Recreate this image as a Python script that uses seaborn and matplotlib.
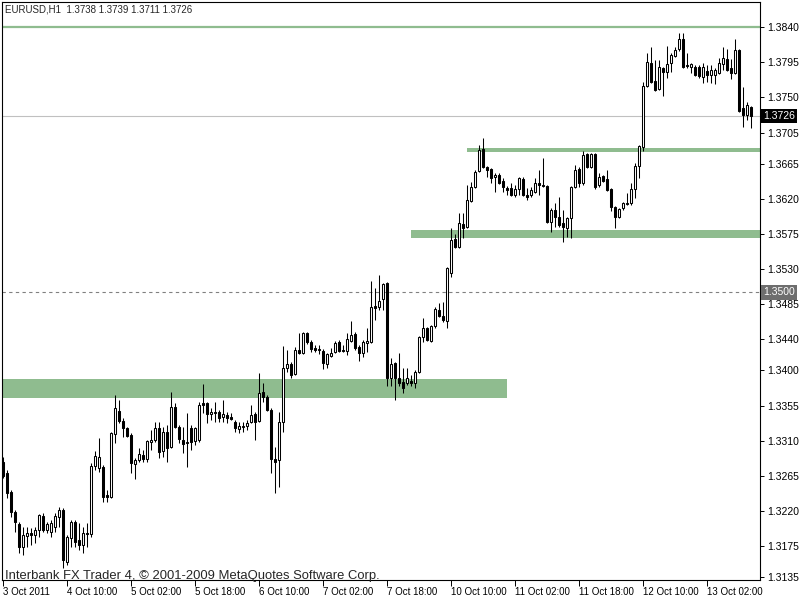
import numpy as np
import pandas as pd
import seaborn as sns
import matplotlib.pyplot as plt
from matplotlib import transforms

# EURUSD H1 bars, 3 Oct 2011 18:00 .. 13 Oct 2011 13:00
opens = [
    1.3283, 1.3269, 1.3244, 1.3219, 1.3203, 1.3174, 1.3188, 1.3192, 1.3189, 1.3196,
    1.3214, 1.3196, 1.3193, 1.3199, 1.3212, 1.3221, 1.3155, 1.3185, 1.3206, 1.3183,
    1.3176, 1.3192, 1.3190, 1.3278, 1.3275, 1.3276, 1.3240, 1.3238, 1.3319, 1.3348,
    1.3335, 1.3326, 1.3317, 1.3280, 1.3285, 1.3292, 1.3287, 1.3308, 1.3311, 1.3326,
    1.3297, 1.3321, 1.3302, 1.3353, 1.3328, 1.3311, 1.3307, 1.3326, 1.3310, 1.3311,
    1.3358, 1.3358, 1.3344, 1.3347, 1.3347, 1.3340, 1.3343, 1.3340, 1.3334, 1.3325,
    1.3328, 1.3329, 1.3334, 1.3344, 1.3335, 1.3372, 1.3366, 1.3349, 1.3287, 1.3285,
    1.3334, 1.3403, 1.3408, 1.3396, 1.3426, 1.3423, 1.3448, 1.3437, 1.3429, 1.3426,
    1.3425, 1.3408, 1.3419, 1.3424, 1.3437, 1.3426, 1.3425, 1.3438, 1.3447, 1.3430,
    1.3423, 1.3435, 1.3437, 1.3483, 1.3482, 1.3492, 1.3512, 1.3390, 1.3410, 1.3390,
    1.3385, 1.3384, 1.3387, 1.3384, 1.3398, 1.3443, 1.3455, 1.3438, 1.3457, 1.3478,
    1.3470, 1.3464, 1.3525, 1.3569, 1.3558, 1.3588, 1.3584, 1.3617, 1.3635, 1.3656,
    1.3684, 1.3661, 1.3658, 1.3648, 1.3651, 1.3643, 1.3634, 1.3634, 1.3625, 1.3633,
    1.3646, 1.3625, 1.3625, 1.3629, 1.3640, 1.3638, 1.3637, 1.3590, 1.3606, 1.3597,
    1.3589, 1.3583, 1.3596, 1.3635, 1.3658, 1.3640, 1.3678, 1.3661, 1.3678, 1.3638,
    1.3649, 1.3646, 1.3633, 1.3610, 1.3597, 1.3608, 1.3614, 1.3615, 1.3633, 1.3662,
    1.3687, 1.3765, 1.3794, 1.3771, 1.3761, 1.3788, 1.3783, 1.3794, 1.3803, 1.3812,
    1.3825, 1.3792, 1.3789, 1.3789, 1.3789, 1.3776, 1.3784, 1.3779, 1.3779, 1.3781,
    1.3793, 1.3799, 1.3788, 1.3781, 1.3811, 1.3737, 1.3728, 1.3738,
]
highs = [
    1.3289, 1.3272, 1.3247, 1.3221, 1.3206, 1.3199, 1.3199, 1.3198, 1.3199, 1.3216,
    1.3217, 1.3206, 1.3208, 1.3217, 1.3225, 1.3224, 1.3189, 1.3208, 1.3208, 1.3205,
    1.3199, 1.3205, 1.3281, 1.3297, 1.3313, 1.3279, 1.3247, 1.3321, 1.3369, 1.3362,
    1.3339, 1.3328, 1.3320, 1.3288, 1.3301, 1.3298, 1.3311, 1.3324, 1.3334, 1.3334,
    1.3328, 1.3330, 1.3372, 1.3358, 1.3330, 1.3328, 1.3346, 1.3330, 1.3328, 1.3360,
    1.3383, 1.3360, 1.3352, 1.3360, 1.3349, 1.3362, 1.3347, 1.3346, 1.3337, 1.3334,
    1.3334, 1.3337, 1.3356, 1.3347, 1.3397, 1.3384, 1.3369, 1.3352, 1.3302, 1.3347,
    1.3431, 1.3426, 1.3411, 1.3430, 1.3448, 1.3449, 1.3449, 1.3439, 1.3433, 1.3433,
    1.3428, 1.3423, 1.3429, 1.3438, 1.3439, 1.3433, 1.3448, 1.3464, 1.3449, 1.3433,
    1.3439, 1.3455, 1.3515, 1.3506, 1.3523, 1.3512, 1.3513, 1.3416, 1.3411, 1.3423,
    1.3403, 1.3403, 1.3394, 1.3401, 1.3444, 1.3467, 1.3456, 1.3458, 1.3482, 1.3487,
    1.3488, 1.3533, 1.3583, 1.3575, 1.3602, 1.3602, 1.3638, 1.3642, 1.3657, 1.3689,
    1.3698, 1.3662, 1.3660, 1.3653, 1.3653, 1.3647, 1.3637, 1.3640, 1.3638, 1.3648,
    1.3648, 1.3634, 1.3635, 1.3647, 1.3657, 1.3672, 1.3638, 1.3608, 1.3615, 1.3622,
    1.3606, 1.3597, 1.3637, 1.3664, 1.3661, 1.3681, 1.3679, 1.3679, 1.3679, 1.3653,
    1.3651, 1.3657, 1.3634, 1.3611, 1.3608, 1.3616, 1.3628, 1.3640, 1.3666, 1.3689,
    1.3770, 1.3807, 1.3815, 1.3798, 1.3798, 1.3789, 1.3816, 1.3807, 1.3815, 1.3833,
    1.3833, 1.3807, 1.3794, 1.3792, 1.3792, 1.3794, 1.3792, 1.3792, 1.3788, 1.3801,
    1.3815, 1.3812, 1.3799, 1.3825, 1.3812, 1.3764, 1.3744, 1.3739,
]
lows = [
    1.3262, 1.3236, 1.3212, 1.3193, 1.3166, 1.3164, 1.3174, 1.3176, 1.3179, 1.3187,
    1.3193, 1.3192, 1.3187, 1.3193, 1.3199, 1.3147, 1.3151, 1.3174, 1.3174, 1.3170,
    1.3166, 1.3174, 1.3187, 1.3272, 1.3270, 1.3231, 1.3231, 1.3237, 1.3307, 1.3333,
    1.3315, 1.3315, 1.3269, 1.3261, 1.3283, 1.3283, 1.3283, 1.3298, 1.3308, 1.3288,
    1.3289, 1.3283, 1.3301, 1.3326, 1.3307, 1.3294, 1.3276, 1.3298, 1.3305, 1.3308,
    1.3346, 1.3333, 1.3337, 1.3334, 1.3334, 1.3334, 1.3333, 1.3337, 1.3321, 1.3320,
    1.3321, 1.3324, 1.3333, 1.3311, 1.3334, 1.3360, 1.3348, 1.3269, 1.3243, 1.3251,
    1.3321, 1.3398, 1.3390, 1.3394, 1.3421, 1.3421, 1.3434, 1.3424, 1.3424, 1.3421,
    1.3402, 1.3403, 1.3417, 1.3423, 1.3424, 1.3424, 1.3420, 1.3437, 1.3426, 1.3412,
    1.3417, 1.3424, 1.3435, 1.3465, 1.3478, 1.3478, 1.3380, 1.3380, 1.3362, 1.3380,
    1.3371, 1.3381, 1.3380, 1.3378, 1.3397, 1.3437, 1.3438, 1.3437, 1.3455, 1.3469,
    1.3462, 1.3455, 1.3520, 1.3557, 1.3557, 1.3570, 1.3583, 1.3616, 1.3634, 1.3655,
    1.3660, 1.3648, 1.3640, 1.3629, 1.3639, 1.3629, 1.3625, 1.3624, 1.3623, 1.3625,
    1.3624, 1.3619, 1.3623, 1.3628, 1.3625, 1.3635, 1.3589, 1.3578, 1.3584, 1.3584,
    1.3565, 1.3571, 1.3570, 1.3634, 1.3635, 1.3638, 1.3660, 1.3660, 1.3633, 1.3635,
    1.3642, 1.3630, 1.3605, 1.3583, 1.3596, 1.3606, 1.3612, 1.3612, 1.3621, 1.3647,
    1.3681, 1.3763, 1.3769, 1.3758, 1.3760, 1.3752, 1.3775, 1.3783, 1.3802, 1.3810,
    1.3788, 1.3788, 1.3781, 1.3778, 1.3775, 1.3769, 1.3770, 1.3769, 1.3767, 1.3780,
    1.3785, 1.3784, 1.3774, 1.3780, 1.3731, 1.3712, 1.3721, 1.3711,
]
closes = [
    1.3265, 1.3243, 1.3219, 1.3206, 1.3174, 1.3189, 1.3192, 1.3189, 1.3196, 1.3215,
    1.3196, 1.3203, 1.3205, 1.3214, 1.3221, 1.3157, 1.3187, 1.3206, 1.3180, 1.3176,
    1.3192, 1.3190, 1.3278, 1.3290, 1.3289, 1.3238, 1.3238, 1.3320, 1.3352, 1.3335,
    1.3326, 1.3316, 1.3282, 1.3285, 1.3293, 1.3287, 1.3310, 1.3311, 1.3326, 1.3296,
    1.3321, 1.3301, 1.3353, 1.3328, 1.3312, 1.3306, 1.3308, 1.3308, 1.3326, 1.3356,
    1.3356, 1.3344, 1.3347, 1.3346, 1.3339, 1.3344, 1.3339, 1.3338, 1.3326, 1.3329,
    1.3329, 1.3333, 1.3343, 1.3334, 1.3371, 1.3366, 1.3349, 1.3287, 1.3283, 1.3334,
    1.3403, 1.3408, 1.3394, 1.3426, 1.3423, 1.3448, 1.3437, 1.3428, 1.3426, 1.3428,
    1.3410, 1.3421, 1.3423, 1.3435, 1.3425, 1.3425, 1.3440, 1.3446, 1.3429, 1.3423,
    1.3437, 1.3438, 1.3482, 1.3480, 1.3489, 1.3511, 1.3390, 1.3408, 1.3390, 1.3384,
    1.3378, 1.3390, 1.3384, 1.3398, 1.3443, 1.3455, 1.3439, 1.3457, 1.3479, 1.3470,
    1.3465, 1.3531, 1.3567, 1.3558, 1.3589, 1.3583, 1.3619, 1.3635, 1.3655, 1.3683,
    1.3661, 1.3657, 1.3647, 1.3651, 1.3640, 1.3635, 1.3631, 1.3625, 1.3633, 1.3647,
    1.3625, 1.3623, 1.3631, 1.3640, 1.3638, 1.3637, 1.3590, 1.3606, 1.3597, 1.3587,
    1.3584, 1.3596, 1.3635, 1.3657, 1.3640, 1.3676, 1.3661, 1.3678, 1.3635, 1.3648,
    1.3643, 1.3631, 1.3610, 1.3597, 1.3607, 1.3615, 1.3615, 1.3633, 1.3662, 1.3688,
    1.3765, 1.3796, 1.3770, 1.3760, 1.3789, 1.3783, 1.3793, 1.3805, 1.3811, 1.3825,
    1.3789, 1.3790, 1.3793, 1.3779, 1.3778, 1.3789, 1.3779, 1.3785, 1.3785, 1.3794,
    1.3801, 1.3785, 1.3781, 1.3811, 1.3733, 1.3728, 1.3740, 1.3726,
]

time_ticks = [0, 16, 32, 48, 64, 80, 96, 112, 128, 144, 160, 176]
time_labels = ['3 Oct 2011', '4 Oct 10:00', '5 Oct 02:00', '5 Oct 18:00',
               '6 Oct 10:00', '7 Oct 02:00', '7 Oct 18:00', '10 Oct 10:00',
               '11 Oct 02:00', '11 Oct 18:00', '12 Oct 10:00', '13 Oct 02:00']
price_ticks = [1.3840, 1.3795, 1.3750, 1.3705, 1.3665, 1.3620, 1.3575, 1.3530,
               1.3485, 1.3440, 1.3400, 1.3355, 1.3310, 1.3265, 1.3220, 1.3175, 1.3135]

ohlc_info = 'EURUSD,H1  1.3738 1.3739 1.3711 1.3726'
footer = 'Interbank FX Trader 4, \u00a9 2001-2009 MetaQuotes Software Corp.'

bid_price = 1.3726
round_level = 1.3500
top_level = 1.3840
# (low, high, first bar, last bar) of the support/resistance zones
zone_low = [1.3680, 1.3570, 1.3365]
zone_high = [1.3685, 1.3580, 1.3389]
zone_start = [116, 102, -0.25]
zone_end = [189.25, 189.25, 126]

sns.set_theme(style='white')
plt.rcParams['font.family'] = ['Liberation Sans', 'DejaVu Sans']

df = pd.DataFrame({'open': opens, 'high': highs, 'low': lows, 'close': closes})
df['bar'] = np.arange(len(df))
up = df[df['close'] >= df['open']]
dn = df[df['close'] < df['open']]

green = '#8fbc8f'

fig = plt.figure(figsize=(8, 6), dpi=100)
ax = fig.add_axes([2 / 800, 20 / 600, 758 / 800, 578 / 600])
ax.set_xlim(-0.25, 189.25)
ax.set_ylim(1.31314, 1.38724)

for lo, hi, x0, x1 in zip(zone_low, zone_high, zone_start, zone_end):
    ax.fill_between([x0, x1], lo, hi, color=green, lw=0, zorder=1)
ax.axhline(top_level, color=green, lw=1.6, zorder=1)
ax.axhline(bid_price, color='#c0c0c0', lw=0.8, zorder=1)
ax.axhline(round_level, color='#808080', lw=0.8, ls=(0, (3, 3)), zorder=1)

ax.vlines(df['bar'], df['low'], df['high'], color='black', lw=0.75, zorder=3)
ax.bar(up['bar'], up['close'] - up['open'], bottom=up['open'], width=0.5,
       color='white', edgecolor='black', lw=0.75, zorder=4)
ax.bar(dn['bar'], dn['open'] - dn['close'], bottom=dn['close'], width=0.5,
       color='black', edgecolor='black', lw=0.75, zorder=4)

for s in ax.spines.values():
    s.set_color('black')
    s.set_linewidth(0.8)

ax.yaxis.tick_right()
ax.set_yticks(price_ticks)
ax.set_yticklabels([f'{p:.4f}' for p in price_ticks])
ax.set_xticks(time_ticks)
ax.set_xticklabels(time_labels)
plt.setp(ax.get_xticklabels(), ha='left')
ax.tick_params(axis='y', direction='out', length=3, width=0.7, pad=2,
               labelsize=7.5, colors='black', right=True, left=False)
ax.tick_params(axis='x', direction='out', length=4, width=0.7, pad=1,
               labelsize=7, colors='black', bottom=True)

tr = transforms.blended_transform_factory(ax.transAxes, ax.transData)
ax.text(1.004, bid_price, f'{bid_price:.4f}', transform=tr, va='center', ha='left',
        color='white', fontsize=7.5, zorder=6,
        bbox=dict(boxstyle='square,pad=0.2', fc='black', ec='none'))
ax.text(1.004, round_level, f'{round_level:.4f}', transform=tr, va='center', ha='left',
        color='white', fontsize=7.5, zorder=6,
        bbox=dict(boxstyle='square,pad=0.2', fc='#6e6e6e', ec='none'))

fig.text(5 / 800, 1 - 10 / 600, ohlc_info, fontsize=7, va='center', ha='left')
fig.text(5 / 800, 1 - 576 / 600, footer, fontsize=9.4, va='center', ha='left')

fig.savefig('out.png', dpi=100)
plt.close(fig)
